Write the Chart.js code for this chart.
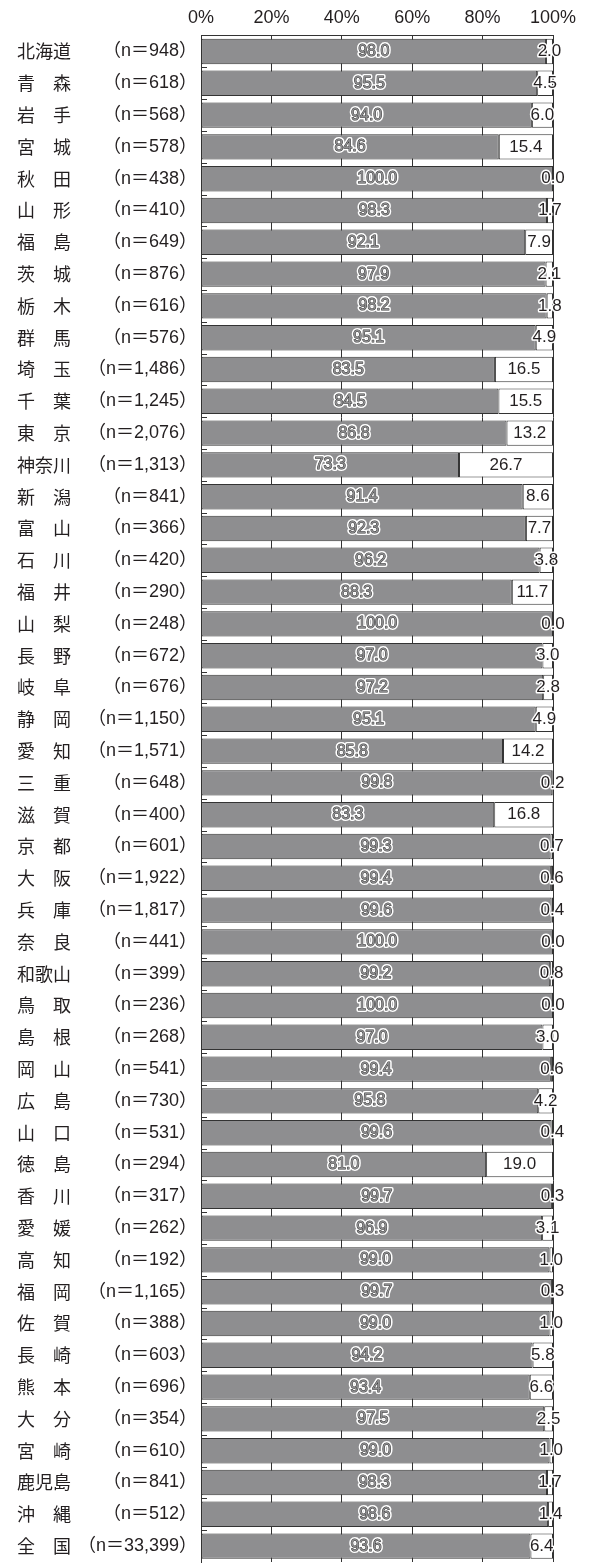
<!DOCTYPE html>
<html lang="ja">
<head>
<meta charset="utf-8">
<script src="https://cdn.jsdelivr.net/npm/chart.js@4"></script>
<style>
  html, body { margin: 0; padding: 0; background: #fff; }
  canvas { display: block; }
</style>
</head>
<body>
<canvas id="prefChart" width="589" height="1567"></canvas>
<script>
const prefectures = ['北海道', '青森', '岩手', '宮城', '秋田', '山形', '福島', '茨城', '栃木', '群馬',
    '埼玉', '千葉', '東京', '神奈川', '新潟', '富山', '石川', '福井', '山梨', '長野',
    '岐阜', '静岡', '愛知', '三重', '滋賀', '京都', '大阪', '兵庫', '奈良', '和歌山',
    '鳥取', '島根', '岡山', '広島', '山口', '徳島', '香川', '愛媛', '高知', '福岡',
    '佐賀', '長崎', '熊本', '大分', '宮崎', '鹿児島', '沖縄', '全国'];
const sampleSizes = ['948', '618', '568', '578', '438', '410', '649', '876', '616', '576',
    '1,486', '1,245', '2,076', '1,313', '841', '366', '420', '290', '248', '672',
    '676', '1,150', '1,571', '648', '400', '601', '1,922', '1,817', '441', '399',
    '236', '268', '541', '730', '531', '294', '317', '262', '192', '1,165',
    '388', '603', '696', '354', '610', '841', '512', '33,399'];
const grayValues = [98.0, 95.5, 94.0, 84.6, 100.0, 98.3, 92.1, 97.9, 98.2, 95.1,
    83.5, 84.5, 86.8, 73.3, 91.4, 92.3, 96.2, 88.3, 100.0, 97.0,
    97.2, 95.1, 85.8, 99.8, 83.3, 99.3, 99.4, 99.6, 100.0, 99.2,
    100.0, 97.0, 99.4, 95.8, 99.6, 81.0, 99.7, 96.9, 99.0, 99.7,
    99.0, 94.2, 93.4, 97.5, 99.0, 98.3, 98.6, 93.6];
const whiteValues = [2.0, 4.5, 6.0, 15.4, 0.0, 1.7, 7.9, 2.1, 1.8, 4.9,
    16.5, 15.5, 13.2, 26.7, 8.6, 7.7, 3.8, 11.7, 0.0, 3.0,
    2.8, 4.9, 14.2, 0.2, 16.8, 0.7, 0.6, 0.4, 0.0, 0.8,
    0.0, 3.0, 0.6, 4.2, 0.4, 19.0, 0.3, 3.1, 1.0, 0.3,
    1.0, 5.8, 6.6, 2.5, 1.0, 1.7, 1.4, 6.4];
const axisTicks = [0, 20, 40, 60, 80, 100];

const INK = '#231f20';
const LINE = '#333333';
const GRAY = '#8e8e90';
const LATIN = '"Liberation Sans", "Noto Sans CJK JP", sans-serif';
const CJK = '"Noto Sans CJK JP", sans-serif';

// two-character names get a full-width space in the middle
const nameLabels = prefectures.map(p => p.length === 2 ? p[0] + '\u3000' + p[1] : p);

// short marks at the left edge between rows
const rowMarks = {
    id: 'rowMarks',
    afterDatasetsDraw(chart) {
        const yScale = chart.scales.y;
        const left = chart.chartArea.left;
        const ctx = chart.ctx;
        ctx.save();
        ctx.strokeStyle = LINE;
        ctx.lineWidth = 1;
        for (let i = 0; i < prefectures.length - 1; i++) {
            const y = Math.round((yScale.getPixelForValue(i) + yScale.getPixelForValue(i + 1)) / 2) + 0.5;
            ctx.beginPath();
            ctx.moveTo(left, y);
            ctx.lineTo(left + 6, y);
            ctx.stroke();
        }
        ctx.restore();
    }
};

// value labels on the bars
const valueLabels = {
    id: 'valueLabels',
    afterDatasetsDraw(chart) {
        const ctx = chart.ctx;
        ctx.save();
        ctx.textAlign = 'center';
        ctx.textBaseline = 'middle';
        ctx.lineJoin = 'round';
        chart.data.datasets.forEach((ds, di) => {
            const meta = chart.getDatasetMeta(di);
            meta.data.forEach((bar, i) => {
                const pt = bar.getCenterPoint();
                const text = ds.data[i].toFixed(1);
                if (di === 0) {
                    ctx.font = '16px ' + LATIN;
                    ctx.lineWidth = 4;
                    ctx.strokeStyle = '#ffffff';
                    ctx.strokeText(text, pt.x, pt.y);
                    ctx.lineWidth = 1;
                    ctx.strokeStyle = '#3a3a3a';
                    ctx.strokeText(text, pt.x, pt.y);
                    ctx.fillStyle = GRAY;
                    ctx.fillText(text, pt.x, pt.y);
                } else {
                    ctx.font = '17px ' + LATIN;
                    ctx.lineWidth = 3;
                    ctx.strokeStyle = '#ffffff';
                    ctx.strokeText(text, pt.x, pt.y);
                    ctx.fillStyle = INK;
                    ctx.fillText(text, pt.x, pt.y);
                }
            });
        });
        ctx.restore();
    }
};

new Chart(document.getElementById('prefChart'), {
    type: 'bar',
    data: {
        labels: prefectures,
        datasets: [{
            data: grayValues,
            backgroundColor: GRAY,
            borderColor: LINE,
            borderWidth: 1,
            borderSkipped: false
        }, {
            data: whiteValues,
            backgroundColor: '#ffffff',
            borderColor: LINE,
            borderWidth: 1,
            borderSkipped: false
        }]
    },
    options: {
        indexAxis: 'y',
        responsive: false,
        animation: false,
        devicePixelRatio: 1,
        barPercentage: 0.8,
        categoryPercentage: 1,
        layout: {
            padding: { left: 17, right: 36, top: 0, bottom: 5 }
        },
        plugins: {
            legend: { display: false },
            tooltip: { enabled: false }
        },
        scales: {
            x: {
                position: 'top',
                stacked: true,
                min: 0,
                max: 100,
                afterBuildTicks: axis => {
                    axis.ticks = axisTicks.map(v => ({ value: v }));
                },
                grid: { color: LINE, lineWidth: 1, drawTicks: false },
                border: { display: true, color: LINE, width: 1 },
                ticks: {
                    padding: 7,
                    color: INK,
                    font: { family: LATIN, size: 18, lineHeight: 1.2 },
                    callback: v => v + '%'
                }
            },
            y: {
                stacked: true,
                position: 'left',
                grid: { display: false, drawTicks: false },
                border: { display: true, color: LINE, width: 1 },
                ticks: {
                    padding: 4,
                    color: INK,
                    font: { family: LATIN, size: 18, lineHeight: 0.1 },
                    callback: (v, i) => '（n＝' + sampleSizes[i] + '）'
                },
                afterFit: scale => { scale.width = 128; }
            },
            names: {
                type: 'category',
                labels: nameLabels,
                position: 'left',
                weight: 1,
                offset: true,
                grid: { display: false, drawTicks: false },
                border: { display: false },
                ticks: {
                    crossAlign: 'far',
                    padding: 0,
                    color: INK,
                    font: { family: CJK, size: 18, lineHeight: 0.1 }
                },
                afterFit: scale => { scale.width = 56; }
            }
        }
    },
    plugins: [rowMarks, valueLabels]
});
</script>
</body>
</html>
